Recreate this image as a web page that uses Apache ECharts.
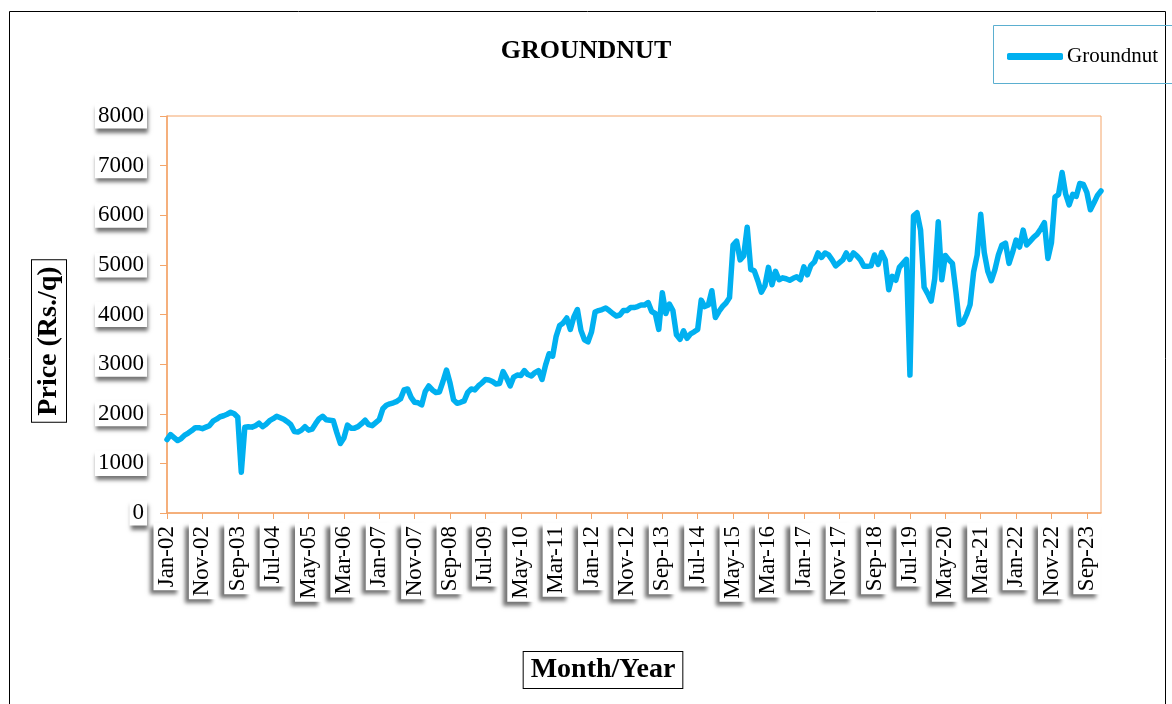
<!DOCTYPE html>
<html>
<head>
<meta charset="utf-8">
<title>Groundnut</title>
<script src="https://cdn.jsdelivr.net/npm/echarts@6/dist/echarts.min.js"></script>
<style>
    html, body { margin: 0; padding: 0; background: #fff; }
    #chart { width: 1172px; height: 704px; }
</style>
</head>
<body>
<div id="chart"></div>
<script>
// monthly price, Jan-02 .. Jan-24 (Rs./q)
const monthNames = ['Jan', 'Feb', 'Mar', 'Apr', 'May', 'Jun', 'Jul', 'Aug', 'Sep', 'Oct', 'Nov', 'Dec'];
const startYear = 2002;
const yTicks = [0, 1000, 2000, 3000, 4000, 5000, 6000, 7000, 8000];
const groundnut = [
    1480, 1580, 1520, 1460, 1500, 1570, 1610, 1660, 1720, 1720,
    1700, 1730, 1760, 1850, 1890, 1940, 1960, 1990, 2030, 2000,
    1930, 820, 1730, 1740, 1730, 1760, 1810, 1740, 1790, 1860,
    1900, 1950, 1920, 1890, 1840, 1780, 1640, 1630, 1670, 1740,
    1670, 1690, 1800, 1900, 1950, 1880, 1870, 1860, 1620, 1400,
    1510, 1770, 1710, 1710, 1740, 1800, 1870, 1780, 1760, 1820,
    1880, 2100, 2170, 2200, 2220, 2250, 2300, 2480, 2500, 2330,
    2230, 2220, 2180, 2450, 2560, 2480, 2430, 2440, 2650, 2880,
    2620, 2280, 2210, 2230, 2260, 2430, 2500, 2480, 2560, 2620,
    2690, 2680, 2650, 2600, 2610, 2850, 2720, 2560, 2740, 2780,
    2770, 2870, 2790, 2760, 2830, 2870, 2690, 2980, 3210, 3160,
    3560, 3780, 3830, 3930, 3700, 3950, 4100, 3680, 3490, 3450,
    3650, 4050, 4080, 4100, 4130, 4080, 4020, 3970, 3990, 4080,
    4080, 4140, 4140, 4160, 4190, 4190, 4240, 4060, 4020, 3700,
    4440, 4020, 4210, 4080, 3590, 3500, 3670, 3520, 3610, 3650,
    3700, 4290, 4160, 4190, 4480, 3940, 4060, 4160, 4230, 4340,
    5400, 5480, 5100, 5180, 5760, 4910, 4880, 4680, 4450, 4580,
    4950, 4600, 4870, 4700, 4740, 4720, 4690, 4730, 4760, 4700,
    4960, 4800, 4990, 5060, 5240, 5150, 5240, 5200, 5100, 4980,
    5040, 5100, 5240, 5110, 5240, 5180, 5100, 4970, 4970, 4980,
    5200, 5010, 5250, 5100, 4500, 4770, 4690, 4950, 5030, 5110,
    2780, 5990, 6050, 5700, 4550, 4420, 4270, 4720, 5870, 4700,
    5190, 5100, 5030, 4450, 3800, 3840, 4000, 4200, 4860, 5200,
    6020, 5250, 4870, 4680, 4900, 5200, 5400, 5440, 5030, 5250,
    5500, 5360, 5700, 5400, 5480, 5560, 5620, 5730, 5850, 5130,
    5450, 6370, 6420, 6860, 6430, 6210, 6420, 6380, 6640, 6620,
    6460, 6110, 6250, 6400, 6490
];

// category labels like "Jan-02"
const months = [];
for (let i = 0; i < groundnut.length; i++) {
    const yy = startYear + Math.floor(i / 12);
    months.push(monthNames[i % 12] + '-' + String(yy % 100).padStart(2, '0'));
}

const serif = "'Liberation Serif', 'Times New Roman', serif";
const axisOrange = '#F4A56A';
const lineBlue = '#00B0F0';

const chart = echarts.init(document.getElementById('chart'));

const option = {
    animation: false,
    title: {
        text: 'GROUNDNUT',
        left: 'center',
        top: 33,
        textStyle: { fontFamily: serif, fontSize: 26, fontWeight: 'bold', color: '#000' }
    },
    legend: {
        left: 1007,
        top: 46,
        padding: 0,
        icon: 'roundRect',
        itemWidth: 56,
        itemHeight: 7,
        itemGap: 4,
        itemStyle: { color: lineBlue, borderWidth: 0 },
        textStyle: { fontFamily: serif, fontSize: 21, color: '#000', padding: [0, 0, 0, -1] },
        data: ['Groundnut']
    },
    grid: {
        left: 167,
        right: 71,
        top: 116,
        bottom: 191,
        show: true,
        borderColor: axisOrange,
        borderWidth: 1
    },
    xAxis: {
        type: 'category',
        data: months,
        boundaryGap: false,
        axisLine: { lineStyle: { color: axisOrange, width: 1.5 } },
        axisTick: { interval: 9, length: 6, lineStyle: { color: axisOrange } },
        axisLabel: {
            interval: 9,
            rotate: 90,
            margin: 10,
            fontFamily: serif,
            fontSize: 23,
            color: '#000',
            backgroundColor: '#fff',
            padding: [2, 3],
            shadowColor: 'rgba(0,0,0,0.55)',
            shadowBlur: 4,
            shadowOffsetX: -4,
            shadowOffsetY: 4
        },
        splitLine: { show: false }
    },
    yAxis: {
        type: 'value',
        min: yTicks[0],
        max: yTicks[yTicks.length - 1],
        interval: 1000,
        axisLine: { show: true, lineStyle: { color: axisOrange, width: 1.5 } },
        axisTick: { show: true, length: 7, lineStyle: { color: axisOrange } },
        axisLabel: {
            margin: 20,
            formatter: function (v) { return String(v); },
            fontFamily: serif,
            fontSize: 23,
            color: '#000',
            backgroundColor: '#fff',
            padding: [1, 3],
            shadowColor: 'rgba(0,0,0,0.55)',
            shadowBlur: 4,
            shadowOffsetX: 1,
            shadowOffsetY: 4
        },
        splitLine: { show: false }
    },
    graphic: [
        // outer chart frame
        {
            type: 'rect',
            shape: { x: 9.5, y: 11.5, width: 1156, height: 720 },
            style: { fill: 'none', stroke: '#000', lineWidth: 1 },
            silent: true
        },
        // legend frame
        {
            type: 'rect',
            shape: { x: 993.5, y: 25.5, width: 180, height: 58 },
            style: { fill: 'none', stroke: '#5BAFD0', lineWidth: 1 },
            silent: true
        },
        {
            type: 'text',
            x: 49,
            y: 341,
            rotation: Math.PI / 2,
            style: {
                text: 'Price (Rs./q)',
                font: 'bold 28px ' + serif,
                fill: '#000',
                align: 'center',
                verticalAlign: 'middle',
                backgroundColor: '#fff',
                borderColor: '#000',
                borderWidth: 1,
                padding: [3, 6]
            }
        },
        {
            type: 'text',
            x: 603,
            y: 670,
            style: {
                text: 'Month/Year',
                font: 'bold 28px ' + serif,
                fill: '#000',
                align: 'center',
                verticalAlign: 'middle',
                backgroundColor: '#fff',
                borderColor: '#000',
                borderWidth: 1,
                padding: [4, 7]
            }
        }
    ],
    series: [
        {
            name: 'Groundnut',
            type: 'line',
            data: groundnut,
            showSymbol: false,
            symbol: 'none',
            lineStyle: { color: lineBlue, width: 5.5, join: 'round', cap: 'round' },
            itemStyle: { color: lineBlue }
        }
    ]
};

chart.setOption(option);
</script>
</body>
</html>
